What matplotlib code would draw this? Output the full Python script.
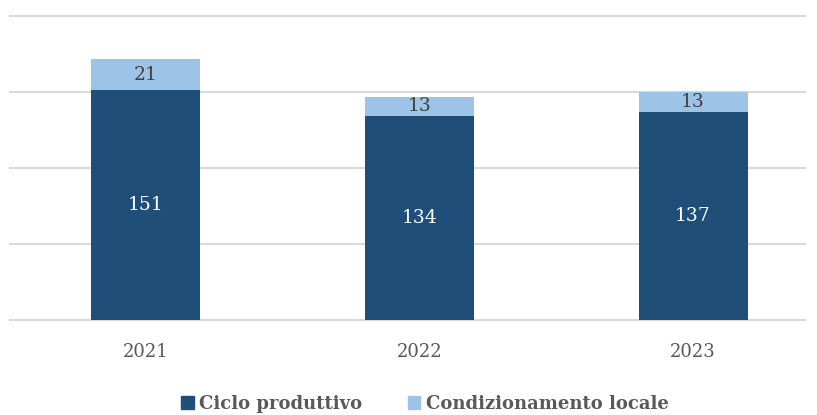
import matplotlib
matplotlib.use("Agg")
import matplotlib.pyplot as plt
from matplotlib.patches import Patch

years = ["2021", "2022", "2023"]
ciclo = [151, 134, 137]
condiz = [21, 13, 13]
series_names = ["Ciclo produttivo", "Condizionamento locale"]
yticks = [0, 50, 100, 150, 200]

dark = "#1F4E79"
light = "#9DC3E6"

plt.rcParams['font.family'] = ['DejaVu Serif']

fig = plt.figure(figsize=(8.17, 4.15), dpi=100)
ax = fig.add_axes([10/817, 1-320/415, 795/817, (320-16)/415])

x = list(range(len(years)))
w = 0.398
ax.bar(x, ciclo, width=w, color=dark, zorder=3)
ax.bar(x, condiz, width=w, bottom=ciclo, color=light, zorder=3)

for xi, v in zip(x, ciclo):
    ax.text(xi, v/2, str(v), ha='center', va='center', color='white', fontsize=13.5, zorder=4)
for xi, base, v in zip(x, ciclo, condiz):
    ax.text(xi, base + v/2, str(v), ha='center', va='center', color='#404040', fontsize=13.5, zorder=4)

ax.set_ylim(0, 200)
ax.set_xlim(-0.496, 2.409)
for yv in yticks:
    ax.axhline(yv, color='#D9D9D9', linewidth=1.5, zorder=0, clip_on=False)
ax.set_yticks([])
ax.tick_params(axis='x', bottom=False, labelsize=13, labelcolor='#595959', pad=13)
ax.set_xticks(x)
ax.set_xticklabels(years)
for s in ax.spines.values():
    s.set_visible(False)

handles = [Patch(color=dark), Patch(color=light)]
leg = fig.legend(handles, series_names, loc='center', bbox_to_anchor=(0.52, 1-404/415),
                 ncol=2, frameon=False, fontsize=13, handlelength=0.7, handleheight=0.7,
                 handletextpad=0.3, columnspacing=2.5)
for t in leg.get_texts():
    t.set_color('#595959')
    t.set_fontweight('bold')

fig.savefig("out.png", dpi=100)
